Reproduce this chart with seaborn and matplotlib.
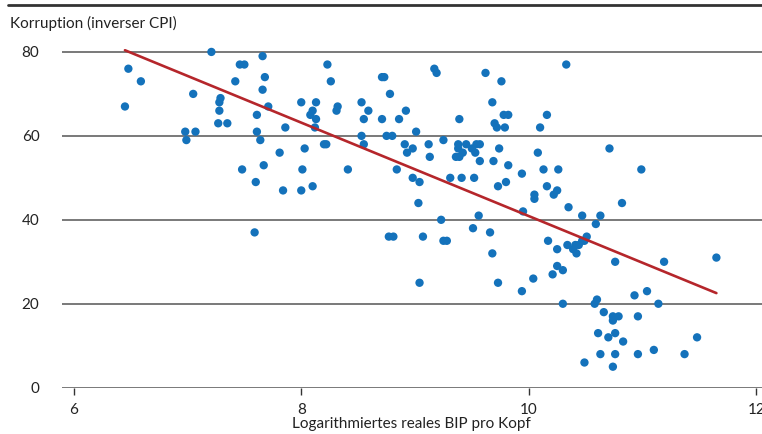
import numpy as np
import pandas as pd
import matplotlib
matplotlib.use("Agg")
import matplotlib.pyplot as plt
from matplotlib.lines import Line2D
import seaborn as sns

log_gdp = [
    6.45, 6.48, 6.59, 6.98, 6.99, 7.05, 7.07, 7.21, 7.27, 7.28,
    7.28, 7.29, 7.35, 7.42, 7.46, 7.50, 7.48, 7.59, 7.60, 7.61,
    7.61, 7.64, 7.66, 7.66, 7.67, 7.68, 7.71, 7.81, 7.84, 7.86,
    8.00, 8.00, 8.01, 8.03, 8.08, 8.10, 8.10, 8.12, 8.13, 8.13,
    8.20, 8.22, 8.23, 8.26, 8.31, 8.32, 8.41, 8.53, 8.53, 8.55,
    8.55, 8.59, 8.71, 8.73, 8.71, 8.75, 8.78, 8.77, 8.81, 8.80,
    8.84, 8.86, 8.91, 8.92, 8.93, 8.98, 8.98, 9.01, 9.03, 9.04,
    9.04, 9.07, 9.12, 9.13, 9.17, 9.19, 9.23, 9.25, 9.25, 9.28,
    9.31, 9.36, 9.38, 9.38, 9.39, 9.39, 9.41, 9.42, 9.45, 9.50,
    9.51, 9.52, 9.53, 9.54, 9.56, 9.57, 9.57, 9.62, 9.66, 9.68,
    9.68, 9.69, 9.70, 9.72, 9.73, 9.73, 9.74, 9.76, 9.78, 9.79,
    9.80, 9.82, 9.82, 9.94, 9.94, 9.95, 10.04, 10.05, 10.05, 10.08,
    10.10, 10.13, 10.16, 10.16, 10.17, 10.21, 10.22, 10.25, 10.25, 10.25,
    10.26, 10.30, 10.30, 10.33, 10.35, 10.34, 10.39, 10.41, 10.42, 10.44,
    10.47, 10.47, 10.49, 10.51, 10.49, 10.58, 10.59, 10.60, 10.61, 10.63,
    10.63, 10.66, 10.70, 10.71, 10.74, 10.74, 10.74, 10.76, 10.76, 10.76,
    10.79, 10.82, 10.83, 10.93, 10.96, 10.96, 10.99, 11.04, 11.10, 11.14,
    11.19, 11.37, 11.48, 11.65,
]
corruption = [
    67, 76, 73, 61, 59, 70, 61, 80, 63, 66,
    68, 69, 63, 73, 77, 77, 52, 37, 49, 65,
    61, 59, 79, 71, 53, 74, 67, 56, 47, 62,
    68, 47, 52, 57, 65, 66, 48, 62, 64, 68,
    58, 58, 77, 73, 66, 67, 52, 68, 60, 64,
    58, 66, 74, 74, 64, 60, 70, 36, 36, 60,
    52, 64, 58, 66, 56, 57, 50, 61, 44, 49,
    25, 36, 58, 55, 76, 75, 40, 59, 35, 35,
    50, 55, 58, 57, 64, 55, 50, 56, 58, 57,
    38, 50, 56, 58, 41, 58, 54, 75, 37, 68,
    32, 54, 63, 62, 48, 25, 57, 73, 65, 62,
    49, 65, 53, 51, 23, 42, 26, 46, 45, 56,
    62, 52, 65, 48, 35, 27, 46, 47, 33, 29,
    52, 28, 20, 77, 43, 34, 33, 34, 32, 34,
    35, 41, 35, 36, 6, 20, 39, 21, 13, 41,
    8, 18, 12, 57, 17, 16, 5, 30, 13, 8,
    17, 44, 11, 22, 17, 8, 52, 23, 9, 20,
    30, 8, 12, 31,
]

x_ticks = [6, 8, 10, 12]
y_ticks = [0, 20, 40, 60, 80]
y_title = "Korruption (inverser CPI)"
x_title = "Logarithmiertes reales BIP pro Kopf"

df = pd.DataFrame({"gdp": log_gdp, "cpi": corruption})

sns.set_theme(style="white")
plt.rcParams["font.family"] = ["Lato", "DejaVu Sans"]

fig = plt.figure(figsize=(7.62, 4.34), dpi=100)
ax = fig.add_axes([0.081, 0.1067, 0.919, 0.822])

# gridlines behind the points
for yv in y_ticks:
    ax.axhline(yv, color="#555555", lw=1.1, zorder=0)

sns.scatterplot(data=df, x="gdp", y="cpi", ax=ax, color="#1472bb",
                s=36, edgecolor="none", zorder=3)
sns.regplot(data=df, x="gdp", y="cpi", ax=ax, scatter=False, ci=None,
            color="#b5262b", line_kws={"lw": 1.9, "zorder": 4})

ax.set_xlim(5.894, 12.051)
ax.set_ylim(0, 85)
ax.set_xticks(x_ticks)
ax.set_yticks(y_ticks)
ax.set_xticklabels([str(t) for t in x_ticks], fontsize=11, color="#222222")
ax.set_yticklabels([str(t) for t in y_ticks], fontsize=11, color="#222222")
ax.tick_params(axis="x", length=5, width=1, color="#333333", pad=6, bottom=True)
ax.tick_params(axis="y", length=0, pad=16)
for side in ["top", "right", "left", "bottom"]:
    ax.spines[side].set_visible(False)

ax.set_xlabel(x_title, fontsize=11, color="#222222", labelpad=0)
ax.set_ylabel("")
fig.text(0.013, 0.947, y_title, fontsize=11, color="#222222", va="center", ha="left")

# dark rule across the top of the figure
fig.add_artist(Line2D([0.01, 1.0], [0.988, 0.988], transform=fig.transFigure,
                      color="#333333", lw=2))

fig.savefig("out.png", dpi=100)
